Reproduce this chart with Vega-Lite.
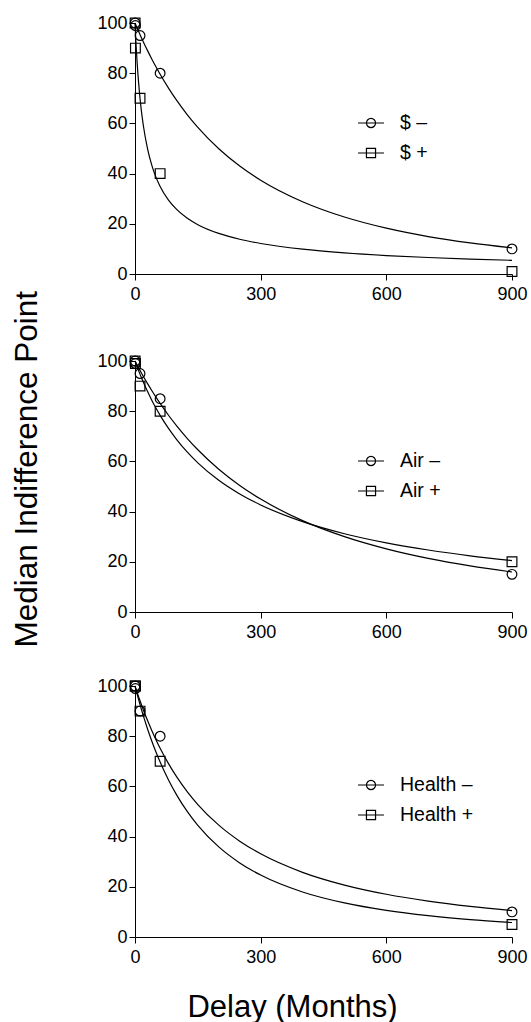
{
  "$schema": "https://vega.github.io/schema/vega-lite/v6.json",
  "padding": {"left": 12, "top": 14, "right": 0, "bottom": 0},
  "title": {"text": "Median Indifference Point", "orient": "left", "anchor": "middle", "fontSize": 31.5, "fontWeight": "normal", "font": "Liberation Sans", "color": "black", "offset": 28, "baseline": "alphabetic", "dx": 49},
  "datasets": {
    "curves": [
      {"panel": 1, "series": "$ –", "delay": 0, "value": 100}, {"panel": 1, "series": "$ –", "delay": 2, "value": 99.21}, {"panel": 1, "series": "$ –", "delay": 5, "value": 98.04}, {"panel": 1, "series": "$ –", "delay": 10, "value": 96.13}, {"panel": 1, "series": "$ –", "delay": 15, "value": 94.27}, {"panel": 1, "series": "$ –", "delay": 20, "value": 92.47}, {"panel": 1, "series": "$ –", "delay": 30, "value": 88.99}, {"panel": 1, "series": "$ –", "delay": 40, "value": 85.69}, {"panel": 1, "series": "$ –", "delay": 50, "value": 82.56}, {"panel": 1, "series": "$ –", "delay": 60, "value": 79.58}, {"panel": 1, "series": "$ –", "delay": 80, "value": 74.06}, {"panel": 1, "series": "$ –", "delay": 100, "value": 69.05}, {"panel": 1, "series": "$ –", "delay": 125, "value": 63.42}, {"panel": 1, "series": "$ –", "delay": 150, "value": 58.4}, {"panel": 1, "series": "$ –", "delay": 200, "value": 49.89}, {"panel": 1, "series": "$ –", "delay": 250, "value": 43.0}, {"panel": 1, "series": "$ –", "delay": 300, "value": 37.36}, {"panel": 1, "series": "$ –", "delay": 400, "value": 28.78}, {"panel": 1, "series": "$ –", "delay": 500, "value": 22.69}, {"panel": 1, "series": "$ –", "delay": 600, "value": 18.25}, {"panel": 1, "series": "$ –", "delay": 700, "value": 14.92}, {"panel": 1, "series": "$ –", "delay": 800, "value": 12.38}, {"panel": 1, "series": "$ –", "delay": 900, "value": 10.39},
      {"panel": 1, "series": "$ +", "delay": 0, "value": 100}, {"panel": 1, "series": "$ +", "delay": 1, "value": 96.36}, {"panel": 1, "series": "$ +", "delay": 2, "value": 93.01}, {"panel": 1, "series": "$ +", "delay": 3.5, "value": 88.46}, {"panel": 1, "series": "$ +", "delay": 5, "value": 84.4}, {"panel": 1, "series": "$ +", "delay": 7, "value": 79.61}, {"panel": 1, "series": "$ +", "delay": 10, "value": 73.48}, {"panel": 1, "series": "$ +", "delay": 15, "value": 65.36}, {"panel": 1, "series": "$ +", "delay": 20, "value": 59.05}, {"panel": 1, "series": "$ +", "delay": 30, "value": 49.84}, {"panel": 1, "series": "$ +", "delay": 40, "value": 43.39}, {"panel": 1, "series": "$ +", "delay": 50, "value": 38.59}, {"panel": 1, "series": "$ +", "delay": 60, "value": 34.87}, {"panel": 1, "series": "$ +", "delay": 80, "value": 29.43}, {"panel": 1, "series": "$ +", "delay": 100, "value": 25.62}, {"panel": 1, "series": "$ +", "delay": 125, "value": 22.19}, {"panel": 1, "series": "$ +", "delay": 150, "value": 19.66}, {"panel": 1, "series": "$ +", "delay": 200, "value": 16.16}, {"panel": 1, "series": "$ +", "delay": 250, "value": 13.83}, {"panel": 1, "series": "$ +", "delay": 300, "value": 12.16}, {"panel": 1, "series": "$ +", "delay": 400, "value": 9.89}, {"panel": 1, "series": "$ +", "delay": 500, "value": 8.41}, {"panel": 1, "series": "$ +", "delay": 600, "value": 7.35}, {"panel": 1, "series": "$ +", "delay": 700, "value": 6.57}, {"panel": 1, "series": "$ +", "delay": 800, "value": 5.95}, {"panel": 1, "series": "$ +", "delay": 900, "value": 5.45},
      {"panel": 2, "series": "Air –", "delay": 0, "value": 100}, {"panel": 2, "series": "Air –", "delay": 2, "value": 99.36}, {"panel": 2, "series": "Air –", "delay": 5, "value": 98.41}, {"panel": 2, "series": "Air –", "delay": 10, "value": 96.85}, {"panel": 2, "series": "Air –", "delay": 15, "value": 95.33}, {"panel": 2, "series": "Air –", "delay": 20, "value": 93.84}, {"panel": 2, "series": "Air –", "delay": 30, "value": 90.97}, {"panel": 2, "series": "Air –", "delay": 40, "value": 88.23}, {"panel": 2, "series": "Air –", "delay": 50, "value": 85.6}, {"panel": 2, "series": "Air –", "delay": 60, "value": 83.09}, {"panel": 2, "series": "Air –", "delay": 80, "value": 78.38}, {"panel": 2, "series": "Air –", "delay": 100, "value": 74.05}, {"panel": 2, "series": "Air –", "delay": 125, "value": 69.11}, {"panel": 2, "series": "Air –", "delay": 150, "value": 64.64}, {"panel": 2, "series": "Air –", "delay": 200, "value": 56.89}, {"panel": 2, "series": "Air –", "delay": 250, "value": 50.43}, {"panel": 2, "series": "Air –", "delay": 300, "value": 44.99}, {"panel": 2, "series": "Air –", "delay": 400, "value": 36.4}, {"panel": 2, "series": "Air –", "delay": 500, "value": 30.02}, {"panel": 2, "series": "Air –", "delay": 600, "value": 25.16}, {"panel": 2, "series": "Air –", "delay": 700, "value": 21.37}, {"panel": 2, "series": "Air –", "delay": 800, "value": 18.36}, {"panel": 2, "series": "Air –", "delay": 900, "value": 15.93},
      {"panel": 2, "series": "Air +", "delay": 0, "value": 100}, {"panel": 2, "series": "Air +", "delay": 2, "value": 99.08}, {"panel": 2, "series": "Air +", "delay": 5, "value": 97.73}, {"panel": 2, "series": "Air +", "delay": 10, "value": 95.56}, {"panel": 2, "series": "Air +", "delay": 15, "value": 93.5}, {"panel": 2, "series": "Air +", "delay": 20, "value": 91.52}, {"panel": 2, "series": "Air +", "delay": 30, "value": 87.81}, {"panel": 2, "series": "Air +", "delay": 40, "value": 84.4}, {"panel": 2, "series": "Air +", "delay": 50, "value": 81.26}, {"panel": 2, "series": "Air +", "delay": 60, "value": 78.35}, {"panel": 2, "series": "Air +", "delay": 80, "value": 73.13}, {"panel": 2, "series": "Air +", "delay": 100, "value": 68.59}, {"panel": 2, "series": "Air +", "delay": 125, "value": 63.67}, {"panel": 2, "series": "Air +", "delay": 150, "value": 59.43}, {"panel": 2, "series": "Air +", "delay": 200, "value": 52.49}, {"panel": 2, "series": "Air +", "delay": 250, "value": 47.04}, {"panel": 2, "series": "Air +", "delay": 300, "value": 42.65}, {"panel": 2, "series": "Air +", "delay": 400, "value": 36.0}, {"panel": 2, "series": "Air +", "delay": 500, "value": 31.19}, {"panel": 2, "series": "Air +", "delay": 600, "value": 27.55}, {"panel": 2, "series": "Air +", "delay": 700, "value": 24.69}, {"panel": 2, "series": "Air +", "delay": 800, "value": 22.38}, {"panel": 2, "series": "Air +", "delay": 900, "value": 20.49},
      {"panel": 3, "series": "Health –", "delay": 0, "value": 100}, {"panel": 3, "series": "Health –", "delay": 2, "value": 98.98}, {"panel": 3, "series": "Health –", "delay": 5, "value": 97.47}, {"panel": 3, "series": "Health –", "delay": 10, "value": 95.04}, {"panel": 3, "series": "Health –", "delay": 15, "value": 92.71}, {"panel": 3, "series": "Health –", "delay": 20, "value": 90.46}, {"panel": 3, "series": "Health –", "delay": 30, "value": 86.22}, {"panel": 3, "series": "Health –", "delay": 40, "value": 82.29}, {"panel": 3, "series": "Health –", "delay": 50, "value": 78.63}, {"panel": 3, "series": "Health –", "delay": 60, "value": 75.23}, {"panel": 3, "series": "Health –", "delay": 80, "value": 69.07}, {"panel": 3, "series": "Health –", "delay": 100, "value": 63.68}, {"panel": 3, "series": "Health –", "delay": 125, "value": 57.83}, {"panel": 3, "series": "Health –", "delay": 150, "value": 52.78}, {"panel": 3, "series": "Health –", "delay": 200, "value": 44.56}, {"panel": 3, "series": "Health –", "delay": 250, "value": 38.19}, {"panel": 3, "series": "Health –", "delay": 300, "value": 33.15}, {"panel": 3, "series": "Health –", "delay": 400, "value": 25.77}, {"panel": 3, "series": "Health –", "delay": 500, "value": 20.68}, {"panel": 3, "series": "Health –", "delay": 600, "value": 17.02}, {"panel": 3, "series": "Health –", "delay": 700, "value": 14.29}, {"panel": 3, "series": "Health –", "delay": 800, "value": 12.19}, {"panel": 3, "series": "Health –", "delay": 900, "value": 10.54},
      {"panel": 3, "series": "Health +", "delay": 0, "value": 100}, {"panel": 3, "series": "Health +", "delay": 2, "value": 98.7}, {"panel": 3, "series": "Health +", "delay": 5, "value": 96.81}, {"panel": 3, "series": "Health +", "delay": 10, "value": 93.76}, {"panel": 3, "series": "Health +", "delay": 15, "value": 90.85}, {"panel": 3, "series": "Health +", "delay": 20, "value": 88.07}, {"panel": 3, "series": "Health +", "delay": 30, "value": 82.87}, {"panel": 3, "series": "Health +", "delay": 40, "value": 78.11}, {"panel": 3, "series": "Health +", "delay": 50, "value": 73.74}, {"panel": 3, "series": "Health +", "delay": 60, "value": 69.71}, {"panel": 3, "series": "Health +", "delay": 80, "value": 62.57}, {"panel": 3, "series": "Health +", "delay": 100, "value": 56.44}, {"panel": 3, "series": "Health +", "delay": 125, "value": 49.95}, {"panel": 3, "series": "Health +", "delay": 150, "value": 44.49}, {"panel": 3, "series": "Health +", "delay": 200, "value": 35.89}, {"panel": 3, "series": "Health +", "delay": 250, "value": 29.52}, {"panel": 3, "series": "Health +", "delay": 300, "value": 24.68}, {"panel": 3, "series": "Health +", "delay": 400, "value": 17.93}, {"panel": 3, "series": "Health +", "delay": 500, "value": 13.57}, {"panel": 3, "series": "Health +", "delay": 600, "value": 10.6}, {"panel": 3, "series": "Health +", "delay": 700, "value": 8.49}, {"panel": 3, "series": "Health +", "delay": 800, "value": 6.94}, {"panel": 3, "series": "Health +", "delay": 900, "value": 5.77}
    ],
    "obs": [
      {"panel": 1, "series": "$ –", "sign": "minus", "delay": 0.25, "value": 100}, {"panel": 1, "series": "$ –", "sign": "minus", "delay": 1, "value": 99}, {"panel": 1, "series": "$ –", "sign": "minus", "delay": 12, "value": 95}, {"panel": 1, "series": "$ –", "sign": "minus", "delay": 60, "value": 80}, {"panel": 1, "series": "$ –", "sign": "minus", "delay": 900, "value": 10},
      {"panel": 1, "series": "$ +", "sign": "plus", "delay": 0.25, "value": 100}, {"panel": 1, "series": "$ +", "sign": "plus", "delay": 1, "value": 90}, {"panel": 1, "series": "$ +", "sign": "plus", "delay": 12, "value": 70}, {"panel": 1, "series": "$ +", "sign": "plus", "delay": 60, "value": 40}, {"panel": 1, "series": "$ +", "sign": "plus", "delay": 900, "value": 1},
      {"panel": 2, "series": "Air –", "sign": "minus", "delay": 0.25, "value": 100}, {"panel": 2, "series": "Air –", "sign": "minus", "delay": 1, "value": 99}, {"panel": 2, "series": "Air –", "sign": "minus", "delay": 12, "value": 95}, {"panel": 2, "series": "Air –", "sign": "minus", "delay": 60, "value": 85}, {"panel": 2, "series": "Air –", "sign": "minus", "delay": 900, "value": 15},
      {"panel": 2, "series": "Air +", "sign": "plus", "delay": 0.25, "value": 100}, {"panel": 2, "series": "Air +", "sign": "plus", "delay": 1, "value": 99}, {"panel": 2, "series": "Air +", "sign": "plus", "delay": 12, "value": 90}, {"panel": 2, "series": "Air +", "sign": "plus", "delay": 60, "value": 80}, {"panel": 2, "series": "Air +", "sign": "plus", "delay": 900, "value": 20},
      {"panel": 3, "series": "Health –", "sign": "minus", "delay": 0.25, "value": 100}, {"panel": 3, "series": "Health –", "sign": "minus", "delay": 1, "value": 99}, {"panel": 3, "series": "Health –", "sign": "minus", "delay": 12, "value": 90}, {"panel": 3, "series": "Health –", "sign": "minus", "delay": 60, "value": 80}, {"panel": 3, "series": "Health –", "sign": "minus", "delay": 900, "value": 10},
      {"panel": 3, "series": "Health +", "sign": "plus", "delay": 0.25, "value": 100}, {"panel": 3, "series": "Health +", "sign": "plus", "delay": 1, "value": 100}, {"panel": 3, "series": "Health +", "sign": "plus", "delay": 12, "value": 90}, {"panel": 3, "series": "Health +", "sign": "plus", "delay": 60, "value": 70}, {"panel": 3, "series": "Health +", "sign": "plus", "delay": 900, "value": 5}
    ]
  },
  "spacing": 36,
  "resolve": {"scale": {"x": "independent", "y": "independent", "shape": "independent"}, "legend": {"shape": "independent"}},
  "vconcat": [
    {
      "spacing": 49,
      "resolve": {"scale": {"x": "independent", "y": "independent", "shape": "independent"}, "legend": {"shape": "independent"}},
      "vconcat": [
        {
          "width": 377, "height": 251,
          "encoding": {
            "x": {"field": "delay", "type": "quantitative", "scale": {"domain": [0, 900], "nice": false}, "axis": {"title": null, "values": [0, 300, 600, 900]}},
            "y": {"field": "value", "type": "quantitative", "scale": {"domain": [0, 100], "nice": false}, "axis": {"title": null, "values": [0, 20, 40, 60, 80, 100]}}
          },
          "layer": [
            {"data": {"name": "curves"}, "transform": [{"filter": {"field": "panel", "equal": 1}}], "mark": {"type": "line", "color": "black", "strokeWidth": 1.2, "interpolate": "monotone"}, "encoding": {"detail": {"field": "series"}}},
            {"data": {"name": "obs"}, "transform": [{"filter": {"field": "panel", "equal": 1}}, {"filter": {"field": "sign", "equal": "minus"}}], "mark": {"type": "point", "shape": "circle", "filled": false, "size": 95, "strokeWidth": 1.2, "color": "black", "opacity": 1}},
            {"data": {"name": "obs"}, "transform": [{"filter": {"field": "panel", "equal": 1}}, {"filter": {"field": "sign", "equal": "plus"}}], "mark": {"type": "point", "shape": "square", "filled": false, "size": 95, "strokeWidth": 1.2, "color": "black", "opacity": 1}},
            {"data": {"name": "obs"}, "transform": [{"filter": {"field": "panel", "equal": 1}}], "mark": {"type": "point", "filled": false, "size": 95, "strokeWidth": 1.2, "color": "black", "opacity": 0},
             "encoding": {"shape": {"field": "series", "type": "nominal", "scale": {"domain": ["$ –", "$ +"], "range": ["M0.35,0C0.35,0.1933,0.1933,0.35,0,0.35C-0.1933,0.35,-0.35,0.1933,-0.35,0C-0.35,-0.1933,-0.1933,-0.35,0,-0.35C0.1933,-0.35,0.35,-0.1933,0.35,0ZM-1,0L1,0", "M-0.35,-0.35L0.35,-0.35L0.35,0.35L-0.35,0.35ZM-1,0L1,0"]},
               "legend": {"title": null, "orient": "none", "legendX": 222, "legendY": 86}}}}
          ]
        },
        {
          "width": 377, "height": 251,
          "encoding": {
            "x": {"field": "delay", "type": "quantitative", "scale": {"domain": [0, 900], "nice": false}, "axis": {"title": null, "values": [0, 300, 600, 900]}},
            "y": {"field": "value", "type": "quantitative", "scale": {"domain": [0, 100], "nice": false}, "axis": {"title": null, "values": [0, 20, 40, 60, 80, 100]}}
          },
          "layer": [
            {"data": {"name": "curves"}, "transform": [{"filter": {"field": "panel", "equal": 2}}], "mark": {"type": "line", "color": "black", "strokeWidth": 1.2, "interpolate": "monotone"}, "encoding": {"detail": {"field": "series"}}},
            {"data": {"name": "obs"}, "transform": [{"filter": {"field": "panel", "equal": 2}}, {"filter": {"field": "sign", "equal": "minus"}}], "mark": {"type": "point", "shape": "circle", "filled": false, "size": 95, "strokeWidth": 1.2, "color": "black", "opacity": 1}},
            {"data": {"name": "obs"}, "transform": [{"filter": {"field": "panel", "equal": 2}}, {"filter": {"field": "sign", "equal": "plus"}}], "mark": {"type": "point", "shape": "square", "filled": false, "size": 95, "strokeWidth": 1.2, "color": "black", "opacity": 1}},
            {"data": {"name": "obs"}, "transform": [{"filter": {"field": "panel", "equal": 2}}], "mark": {"type": "point", "filled": false, "size": 95, "strokeWidth": 1.2, "color": "black", "opacity": 0},
             "encoding": {"shape": {"field": "series", "type": "nominal", "scale": {"domain": ["Air –", "Air +"], "range": ["M0.35,0C0.35,0.1933,0.1933,0.35,0,0.35C-0.1933,0.35,-0.35,0.1933,-0.35,0C-0.35,-0.1933,-0.1933,-0.35,0,-0.35C0.1933,-0.35,0.35,-0.1933,0.35,0ZM-1,0L1,0", "M-0.35,-0.35L0.35,-0.35L0.35,0.35L-0.35,0.35ZM-1,0L1,0"]},
               "legend": {"title": null, "orient": "none", "legendX": 222, "legendY": 86}}}}
          ]
        }
      ]
    },
    {
      "width": 377, "height": 251,
      "encoding": {
        "x": {"field": "delay", "type": "quantitative", "scale": {"domain": [0, 900], "nice": false}, "axis": {"title": "Delay (Months)", "values": [0, 300, 600, 900], "titleFontSize": 31, "titleX": 157, "titleY": 79.5, "titleBaseline": "alphabetic", "titleAlign": "center"}},
        "y": {"field": "value", "type": "quantitative", "scale": {"domain": [0, 100], "nice": false}, "axis": {"title": null, "values": [0, 20, 40, 60, 80, 100]}}
      },
      "layer": [
        {"data": {"name": "curves"}, "transform": [{"filter": {"field": "panel", "equal": 3}}], "mark": {"type": "line", "color": "black", "strokeWidth": 1.2, "interpolate": "monotone"}, "encoding": {"detail": {"field": "series"}}},
        {"data": {"name": "obs"}, "transform": [{"filter": {"field": "panel", "equal": 3}}, {"filter": {"field": "sign", "equal": "minus"}}], "mark": {"type": "point", "shape": "circle", "filled": false, "size": 95, "strokeWidth": 1.2, "color": "black", "opacity": 1}},
        {"data": {"name": "obs"}, "transform": [{"filter": {"field": "panel", "equal": 3}}, {"filter": {"field": "sign", "equal": "plus"}}], "mark": {"type": "point", "shape": "square", "filled": false, "size": 95, "strokeWidth": 1.2, "color": "black", "opacity": 1}},
        {"data": {"name": "obs"}, "transform": [{"filter": {"field": "panel", "equal": 3}}], "mark": {"type": "point", "filled": false, "size": 95, "strokeWidth": 1.2, "color": "black", "opacity": 0},
         "encoding": {"shape": {"field": "series", "type": "nominal", "scale": {"domain": ["Health –", "Health +"], "range": ["M0.35,0C0.35,0.1933,0.1933,0.35,0,0.35C-0.1933,0.35,-0.35,0.1933,-0.35,0C-0.35,-0.1933,-0.1933,-0.35,0,-0.35C0.1933,-0.35,0.35,-0.1933,0.35,0ZM-1,0L1,0", "M-0.35,-0.35L0.35,-0.35L0.35,0.35L-0.35,0.35ZM-1,0L1,0"]},
           "legend": {"title": null, "orient": "none", "legendX": 222, "legendY": 85}}}}
      ]
    }
  ],
  "config": {
    "font": "Liberation Sans",
    "view": {"stroke": null},
    "axis": {"grid": false, "domainColor": "black", "domainWidth": 1, "tickColor": "black", "tickWidth": 1, "tickSize": 6, "labelColor": "black", "labelFontSize": 18, "labelFont": "Liberation Sans", "labelFlush": false, "titleFont": "Liberation Sans", "titleColor": "black", "titleFontWeight": "normal"},
    "axisX": {"labelPadding": 5},
    "axisY": {"labelPadding": 2},
    "legend": {"labelFontSize": 19.5, "labelFont": "Liberation Sans", "labelColor": "black", "labelOffset": 15, "rowPadding": 6, "symbolSize": 676, "padding": 0, "symbolStrokeWidth": 1.2, "symbolStrokeColor": "black", "symbolFillColor": "transparent", "symbolOpacity": 1}
  }
}
